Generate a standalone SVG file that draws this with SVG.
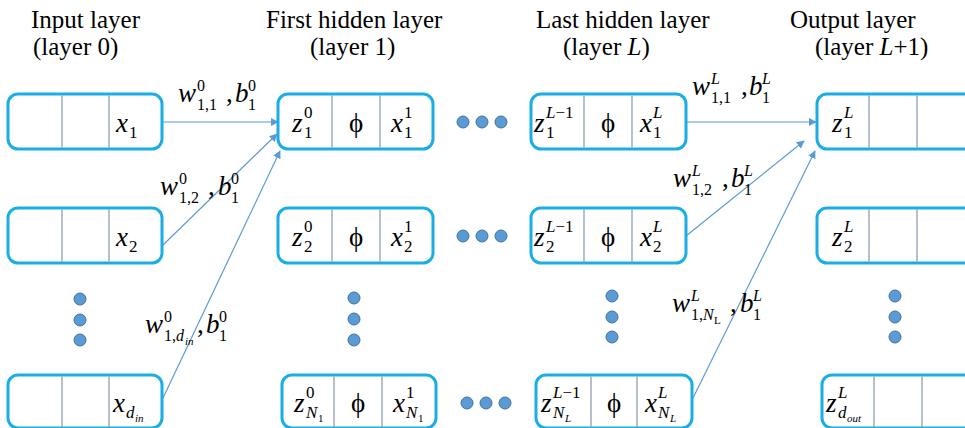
<svg xmlns="http://www.w3.org/2000/svg" width="965" height="428" viewBox="0 0 965 428">
<defs>
<style>
.box{fill:#fff;stroke:#1AAEE5;stroke-width:3}
.div{stroke:#8497B0;stroke-width:1.2}
.h{font-family:"Liberation Serif","Times New Roman",serif;font-size:25px;fill:#000}
.m{font-family:"Liberation Serif","DejaVu Serif",serif;font-style:italic;font-size:27px;fill:#000}
.u{font-family:"Liberation Serif","DejaVu Serif",serif;font-size:27px;fill:#000}
.s{font-family:"Liberation Serif","DejaVu Serif",serif;font-size:17px;fill:#000}
.si{font-family:"Liberation Serif","DejaVu Serif",serif;font-style:italic;font-size:17px;fill:#000}
.ls{font-family:"Liberation Serif","DejaVu Serif",serif;font-size:16px;fill:#000}
.lsi{font-family:"Liberation Serif","DejaVu Serif",serif;font-style:italic;font-size:16px;fill:#000}
.ss{font-family:"Liberation Serif","DejaVu Serif",serif;font-style:italic;font-size:11px;fill:#000}
.ssu{font-family:"Liberation Serif","DejaVu Serif",serif;font-size:11px;fill:#000}
.dot{fill:#5B9BD5;stroke:#41719C;stroke-width:1}
.arr{stroke:#5B9BD5;stroke-width:1.2;fill:none;marker-end:url(#ah)}
</style>
<marker id="ah" viewBox="0 0 10 10" refX="9" refY="5" markerWidth="8" markerHeight="8" markerUnits="userSpaceOnUse" orient="auto">
<path d="M0,0 L10,5 L0,10 z" fill="#5B9BD5"/>
</marker>
</defs>

<g id="headers">
<text class="h" x="31" y="28">Input layer</text>
<text class="h" x="33" y="55">(layer 0)</text>
<text class="h" x="266" y="28">First hidden layer</text>
<text class="h" x="310" y="55">(layer 1)</text>
<text class="h" x="536" y="28">Last hidden layer</text>
<text class="h" x="563" y="55">(layer  <tspan font-style="italic">L</tspan>)</text>
<text class="h" x="790" y="28">Output layer</text>
<text class="h" x="815" y="55">(layer <tspan font-style="italic">L</tspan>+1)</text>
</g>

<g id="connectors">
<path class="arr" d="M163,122 L278,122"/>
<path class="arr" d="M162,246 L277,134"/>
<path class="arr" d="M163,398 L280,151"/>
<path class="arr" d="M686,122 L816,122"/>
<path class="arr" d="M686,236 L804,141"/>
<path class="arr" d="M693,398 L815,151"/>
</g>

<g id="edge-labels">
<g id="lab1">
<text class="m" x="178" y="102">w</text><text class="ls" x="197" y="91">0</text><text class="ls" x="197" y="110">1,1</text>
<text class="u" x="226" y="102">,</text><text class="m" x="235" y="102">b</text><text class="ls" x="248" y="91">0</text><text class="ls" x="248" y="110">1</text>
</g>
<g id="lab2">
<text class="m" x="160" y="195">w</text><text class="ls" x="179" y="184">0</text><text class="ls" x="179" y="203">1,2</text>
<text class="u" x="208" y="195">,</text><text class="m" x="218" y="195">b</text><text class="ls" x="231" y="184">0</text><text class="ls" x="231" y="203">1</text>
</g>
<g id="lab3">
<text class="m" x="145" y="333">w</text><text class="ls" x="164" y="322">0</text><text class="ls" x="164" y="341">1,<tspan class="lsi">d</tspan></text><text class="ss" x="185" y="345">in</text>
<text class="u" x="197" y="333">,</text><text class="m" x="206" y="333">b</text><text class="ls" x="219" y="322">0</text><text class="ls" x="219" y="341">1</text>
</g>
<g id="lab4">
<text class="m" x="692" y="95">w</text><text class="lsi" x="711" y="84">L</text><text class="ls" x="711" y="103">1,1</text>
<text class="u" x="741" y="95">,</text><text class="m" x="749" y="95">b</text><text class="lsi" x="762" y="84">L</text><text class="ls" x="762" y="103">1</text>
</g>
<g id="lab5">
<text class="m" x="673" y="187">w</text><text class="lsi" x="692" y="176">L</text><text class="ls" x="692" y="195">1,2</text>
<text class="u" x="722" y="187">,</text><text class="m" x="731" y="187">b</text><text class="lsi" x="744" y="176">L</text><text class="ls" x="744" y="195">1</text>
</g>
<g id="lab6">
<text class="m" x="672" y="312">w</text><text class="lsi" x="691" y="301">L</text><text class="ls" x="691" y="320">1,<tspan class="lsi">N</tspan></text><text class="ssu" x="714" y="324">L</text>
<text class="u" x="730" y="312">,</text><text class="m" x="740" y="312">b</text><text class="lsi" x="753" y="301">L</text><text class="ls" x="753" y="320">1</text>
</g>
</g>

<!-- Input layer -->
<g id="in1">
<rect class="box" x="8" y="94" width="154" height="55" rx="10"/>
<line class="div" x1="62" y1="95.5" x2="62" y2="147.5"/><line class="div" x1="109" y1="95.5" x2="109" y2="147.5"/>
<text class="m" x="116" y="132">x</text><text class="s" x="129" y="138">1</text>
</g>
<g id="in2">
<rect class="box" x="8" y="208" width="154" height="55" rx="10"/>
<line class="div" x1="62" y1="209.5" x2="62" y2="261.5"/><line class="div" x1="109" y1="209.5" x2="109" y2="261.5"/>
<text class="m" x="116" y="246">x</text><text class="s" x="129" y="252">2</text>
</g>
<g id="in-dots">
<circle class="dot" cx="80" cy="299" r="6"/><circle class="dot" cx="80" cy="320" r="6"/><circle class="dot" cx="80" cy="340" r="6"/>
</g>
<g id="in3">
<rect class="box" x="8" y="375" width="154" height="53" rx="10"/>
<line class="div" x1="62" y1="376.5" x2="62" y2="428"/><line class="div" x1="109" y1="376.5" x2="109" y2="428"/>
<text class="m" x="113" y="412">x</text><text class="si" x="126" y="418">d</text><text class="ss" x="135" y="422">in</text>
</g>

<!-- First hidden layer -->
<g id="h1-1">
<rect class="box" x="278" y="94" width="155" height="55" rx="10"/>
<line class="div" x1="332" y1="95.5" x2="332" y2="147.5"/><line class="div" x1="380" y1="95.5" x2="380" y2="147.5"/>
<text class="m" x="292" y="132">z</text><text class="s" x="304" y="118">0</text><text class="s" x="304" y="138">1</text>
<text class="u" x="356" y="132" text-anchor="middle">ϕ</text>
<text class="m" x="391" y="132">x</text><text class="s" x="404" y="118">1</text><text class="s" x="404" y="138">1</text>
</g>
<g id="h1-2">
<rect class="box" x="278" y="208" width="155" height="55" rx="10"/>
<line class="div" x1="332" y1="209.5" x2="332" y2="261.5"/><line class="div" x1="380" y1="209.5" x2="380" y2="261.5"/>
<text class="m" x="292" y="246">z</text><text class="s" x="304" y="232">0</text><text class="s" x="304" y="252">2</text>
<text class="u" x="356" y="246" text-anchor="middle">ϕ</text>
<text class="m" x="391" y="246">x</text><text class="s" x="404" y="232">1</text><text class="s" x="404" y="252">2</text>
</g>
<g id="h1-dots">
<circle class="dot" cx="354" cy="298" r="6"/><circle class="dot" cx="354" cy="319" r="6"/><circle class="dot" cx="354" cy="340" r="6"/>
</g>
<g id="h1-3">
<rect class="box" x="282" y="375" width="154" height="53" rx="10"/>
<line class="div" x1="334" y1="376.5" x2="334" y2="428"/><line class="div" x1="382" y1="376.5" x2="382" y2="428"/>
<text class="m" x="294" y="412">z</text><text class="s" x="306" y="398">0</text><text class="si" x="306" y="418">N</text><text class="ssu" x="318" y="422">1</text>
<text class="u" x="358" y="412" text-anchor="middle">ϕ</text>
<text class="m" x="393" y="412">x</text><text class="s" x="406" y="398">1</text><text class="si" x="406" y="418">N</text><text class="ssu" x="418" y="422">1</text>
</g>

<g id="mid-dots">
<circle class="dot" cx="463" cy="122" r="6"/><circle class="dot" cx="482" cy="122" r="6"/><circle class="dot" cx="501" cy="122" r="6"/>
<circle class="dot" cx="463" cy="236" r="6"/><circle class="dot" cx="482" cy="236" r="6"/><circle class="dot" cx="501" cy="236" r="6"/>
<circle class="dot" cx="467" cy="403" r="6"/><circle class="dot" cx="486" cy="403" r="6"/><circle class="dot" cx="505" cy="403" r="6"/>
</g>

<!-- Last hidden layer -->
<g id="hL-1">
<rect class="box" x="531" y="94" width="155" height="55" rx="10"/>
<line class="div" x1="584" y1="95.5" x2="584" y2="147.5"/><line class="div" x1="632" y1="95.5" x2="632" y2="147.5"/>
<text class="m" x="534" y="132">z</text><text class="s" x="546" y="118"><tspan class="si">L</tspan>−1</text><text class="s" x="546" y="138">1</text>
<text class="u" x="608" y="132" text-anchor="middle">ϕ</text>
<text class="m" x="640" y="132">x</text><text class="si" x="653" y="118">L</text><text class="s" x="653" y="138">1</text>
</g>
<g id="hL-2">
<rect class="box" x="531" y="208" width="155" height="55" rx="10"/>
<line class="div" x1="584" y1="209.5" x2="584" y2="261.5"/><line class="div" x1="632" y1="209.5" x2="632" y2="261.5"/>
<text class="m" x="534" y="246">z</text><text class="s" x="546" y="232"><tspan class="si">L</tspan>−1</text><text class="s" x="546" y="252">2</text>
<text class="u" x="608" y="246" text-anchor="middle">ϕ</text>
<text class="m" x="640" y="246">x</text><text class="si" x="653" y="232">L</text><text class="s" x="653" y="252">2</text>
</g>
<g id="hL-dots">
<circle class="dot" cx="612" cy="296" r="6"/><circle class="dot" cx="612" cy="317" r="6"/><circle class="dot" cx="612" cy="337" r="6"/>
</g>
<g id="hL-3">
<rect class="box" x="536" y="375" width="156" height="53" rx="10"/>
<line class="div" x1="591" y1="376.5" x2="591" y2="428"/><line class="div" x1="637" y1="376.5" x2="637" y2="428"/>
<text class="m" x="541" y="412">z</text><text class="s" x="553" y="398"><tspan class="si">L</tspan>−1</text><text class="si" x="553" y="418">N</text><text class="ss" x="565" y="422">L</text>
<text class="u" x="614" y="412" text-anchor="middle">ϕ</text>
<text class="m" x="645" y="412">x</text><text class="si" x="658" y="398">L</text><text class="si" x="658" y="418">N</text><text class="ss" x="670" y="422">L</text>
</g>

<!-- Output layer -->
<g id="out1">
<rect class="box" x="817" y="94" width="170" height="55" rx="10"/>
<line class="div" x1="869" y1="95.5" x2="869" y2="147.5"/><line class="div" x1="917" y1="95.5" x2="917" y2="147.5"/>
<text class="m" x="832" y="132">z</text><text class="si" x="844" y="118">L</text><text class="s" x="844" y="138">1</text>
</g>
<g id="out2">
<rect class="box" x="817" y="208" width="170" height="55" rx="10"/>
<line class="div" x1="869" y1="209.5" x2="869" y2="261.5"/><line class="div" x1="917" y1="209.5" x2="917" y2="261.5"/>
<text class="m" x="832" y="246">z</text><text class="si" x="844" y="232">L</text><text class="s" x="844" y="252">2</text>
</g>
<g id="out-dots">
<circle class="dot" cx="895" cy="296" r="6"/><circle class="dot" cx="895" cy="317" r="6"/><circle class="dot" cx="895" cy="337" r="6"/>
</g>
<g id="out3">
<rect class="box" x="822" y="375" width="170" height="53" rx="10"/>
<line class="div" x1="874" y1="376.5" x2="874" y2="428"/><line class="div" x1="922" y1="376.5" x2="922" y2="428"/>
<text class="m" x="826" y="412">z</text><text class="si" x="838" y="398">L</text><text class="si" x="838" y="418">d</text><text class="ss" x="847" y="422">out</text>
</g>
</svg>
